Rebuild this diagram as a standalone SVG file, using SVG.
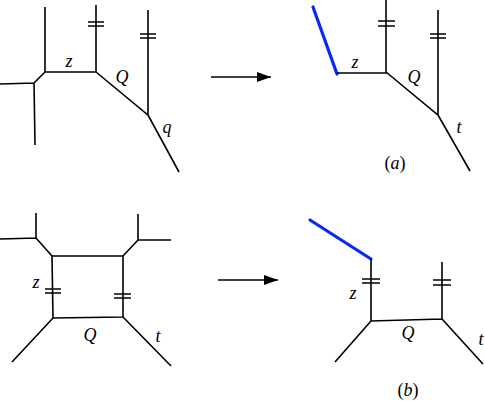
<svg xmlns="http://www.w3.org/2000/svg" width="485" height="401" viewBox="0 0 485 401">
<style>
.l{stroke:#000;stroke-width:1.6;fill:none;stroke-linecap:butt;stroke-linejoin:miter}
.b{stroke:#0a28f0;stroke-width:3.2;fill:none;stroke-linecap:round}
.t{stroke:#000;stroke-width:1.6}
.m{font-family:"Liberation Serif",serif;font-style:italic;font-size:18px;fill:#000;text-anchor:middle}
.n{font-family:"Liberation Serif",serif;font-size:18px;fill:#000;text-anchor:middle}
</style>
<defs>
<marker id="ah" markerWidth="14" markerHeight="10" refX="14" refY="5" orient="auto" markerUnits="userSpaceOnUse">
<path d="M0,0 L14,5 L0,10 Z" fill="#000"/>
</marker>
</defs>
<g id="diagram-a-left">
<path class="l" d="M45,7 V72 H96 V5 M96,72 L148,115 V10 M148,115 L179,172 M45,72 L34,83 L0,84 M34,83 L35,145"/>
<path class="t" d="M88,22 H104 M88,26 H104 M140,34 H156 M140,38 H156"/>
<text class="m" x="69" y="67">z</text>
<text class="m" x="122" y="83">Q</text>
<text class="m" x="167" y="133">q</text>
</g>
<g id="diagram-a-right">
<path class="b" d="M313,7 L337,74"/>
<path class="l" d="M337,73 H386 V0 M386,72 L438,115 V10 M438,115 L470,171"/>
<path class="t" d="M378,21 H395 M378,26 H395 M430,34 H446 M430,38 H446"/>
<text class="m" x="355" y="68">z</text>
<text class="m" x="414" y="83">Q</text>
<text class="m" x="459" y="133">t</text>
<text class="n" x="395" y="169"><tspan>(</tspan><tspan font-style="italic">a</tspan><tspan>)</tspan></text>
</g>
<g id="diagram-b-left">
<path class="l" d="M52,256 H123 V317 L53,318 Z"/>
<path class="l" d="M36,213 V238 L0,239 M36,238 L52,256 M123,256 L138,240 V214 M138,240 H171 M53,318 L12,362 M123,317 L171,366"/>
<path class="t" d="M45,289 H61 M45,293 H61 M114,294 H131 M114,298 H131"/>
<text class="m" x="36" y="288">z</text>
<text class="m" x="90" y="341">Q</text>
<text class="m" x="158" y="342">t</text>
</g>
<g id="diagram-b-right">
<path class="b" d="M310,220 L371,259"/>
<path class="l" d="M371,259 V321 L442,319 V262 M371,321 L335,362 M442,319 L483,364"/>
<path class="t" d="M362,279 H380 M362,283 H380 M433,280 H451 M433,285 H451"/>
<text class="m" x="353" y="299">z</text>
<text class="m" x="408" y="339">Q</text>
<text class="m" x="481" y="345">t</text>
<text class="n" x="408" y="396"><tspan>(</tspan><tspan font-style="italic">b</tspan><tspan>)</tspan></text>
</g>
<g id="connectors">
<line class="l" x1="211" y1="77" x2="271" y2="77" marker-end="url(#ah)"/>
<line class="l" x1="218" y1="280" x2="278" y2="280" marker-end="url(#ah)"/>
</g>
</svg>
